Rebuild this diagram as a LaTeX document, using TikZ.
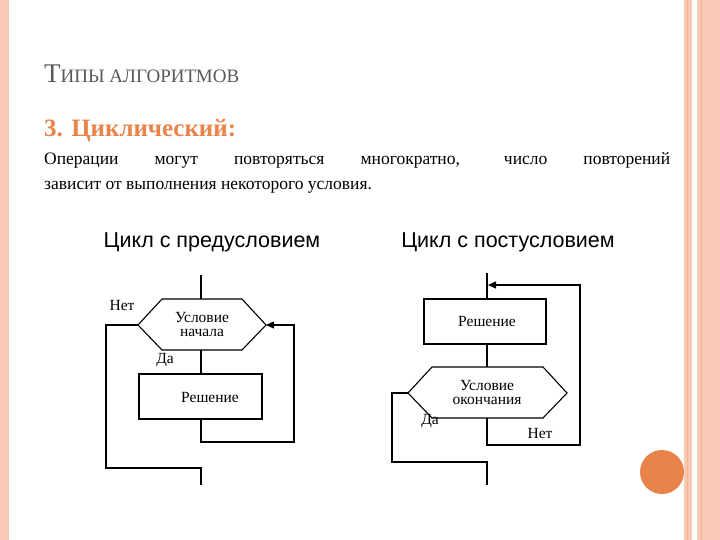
\documentclass[tikz,border=0pt]{standalone}
\usepackage{fontspec}
\setmainfont{Liberation Serif}
\newfontfamily\sansf{Liberation Sans}
\usetikzlibrary{arrows.meta}
\definecolor{pinkb}{HTML}{F9C9B8}
\definecolor{orng}{HTML}{E8834A}
\begin{document}
\begin{tikzpicture}[x=1pt,y=-1pt,
  ln/.style={draw=black,line width=1.1pt},
  lbl/.style={font=\fontsize{15.5}{15}\selectfont,inner sep=0pt},
  ttl/.style={font=\sansf\fontsize{21.5}{21}\selectfont,inner sep=0pt}]
\useasboundingbox (0,0) rectangle (720,540);
\fill[white] (0,0) rectangle (720,540);
% slide border
\fill[pinkb] (0,0) rectangle (9,540);
\fill[pinkb] (684,0) rectangle (720,540);
\fill[white] (692,0) rectangle (697,540);
\draw[pinkb!70!orange,line width=0.8pt] (687,0) -- (687,540) (701,0)--(701,540);
\fill[orng] (662,472) circle (22);
% header
\node[anchor=base west,inner sep=0pt,text=black!65] (h) at (44,83)
  {\fontsize{27}{27}\selectfont Т\fontsize{19}{19}\selectfont ИПЫ АЛГОРИТМОВ};
\node[anchor=base west,inner sep=0pt,text=orng] (h2) at (44,137)
  {\fontsize{25}{25}\selectfont\bfseries 3. Циклический:};
\node[anchor=north west,inner sep=0pt,text width=626pt,align=justify,
  font=\fontsize{17.5}{25.5}\selectfont] (body) at (44,152)
  {{\parfillskip=0pt Операции могут повторяться многократно, число повторений\par}зависит от выполнения некоторого условия.};
% titles
\node[ttl] (t1) at (212,242) {Цикл с предусловием};
\node[ttl] (t2) at (508,242) {Цикл с постусловием};
% left chart
\draw[ln] (138,325) -- (162,299) -- (242,299) -- (266,325) -- (242,350) -- (162,350) -- cycle;
\coordinate (hl) at (138,325); \coordinate (hr) at (266,325);
\node[lbl,align=center] (c1) at (202,324) {Условие\\[-1pt]начала};
\node[draw=black,line width=1.1pt,minimum width=123pt,minimum height=45pt,inner sep=0pt] (b1) at (200.5,396.5) {};
\node[lbl] at (210,397) {Решение};
\draw[ln] (201,275) -- (201,299);
\draw[ln] (201,350) -- (b1.north -| 201,0);
\draw[ln,-{Triangle[length=8pt,width=7pt]}] (b1.south -| 201,0) -- (201,442) -- (294,442) -- (294,325) -- (hr);
\draw[ln] (hl) -- (106,325) -- (106,468) -- (201,468) -- (201,485);
\node[lbl] at (122,305) {Нет};
\node[lbl] at (165,360) {Да};
% right chart
\node[draw=black,line width=1.1pt,minimum width=122pt,minimum height=45pt,inner sep=0pt] (b2) at (485,321.5) {};
\node[lbl] at (487,322) {Решение};
\draw[ln] (408,393) -- (432,367) -- (543,367) -- (567,393) -- (543,418) -- (432,418) -- cycle;
\coordinate (hl2) at (408,393);
\node[lbl,align=center] (c2) at (487,392) {Условие\\[-1pt]окончания};
\draw[ln] (487,273) -- (487,299);
\draw[ln] (487,344) -- (487,367);
\draw[ln,-{Triangle[length=8pt,width=7pt]}] (487,418) -- (487,445) -- (580,445) -- (580,285) -- (488,285);
\draw[ln] (hl2) -- (392,393) -- (392,462) -- (487,462) -- (487,485);
\node[lbl] at (430,421) {Да};
\node[lbl] at (540,433) {Нет};
\end{tikzpicture}
\end{document}
